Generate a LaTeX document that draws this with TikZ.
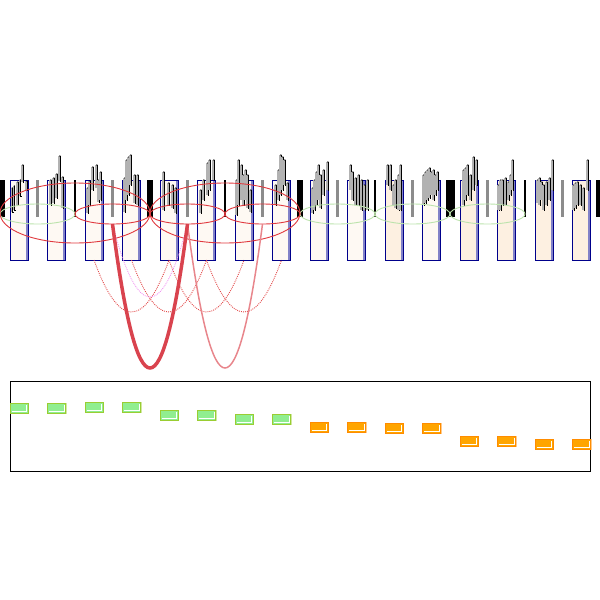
\documentclass[tikz,border=0pt]{standalone}
\definecolor{boxcream}{HTML}{FEF9F3}
\definecolor{boxorange}{HTML}{FDF0E1}
\definecolor{boxedge}{HTML}{00008B}
\definecolor{boxbar}{HTML}{8282C8}
\definecolor{loopred}{HTML}{E0393E}
\definecolor{loopgreen}{HTML}{BCE3AC}
\definecolor{arcdark}{HTML}{D9434E}
\definecolor{arclight}{HTML}{E8868C}
\definecolor{dotred}{HTML}{E24A4A}
\definecolor{dotpink}{HTML}{F08CF0}
\definecolor{gfill}{HTML}{90EE90}
\definecolor{gedge}{HTML}{9ACD32}
\definecolor{ofill}{HTML}{FFA500}
\definecolor{oedge}{HTML}{FF8C00}
\tikzset{
  binbox/.style={draw=boxedge, line width=0.8pt},
  bigloop/.style={draw=loopred, line width=0.9pt},
  redloop/.style={draw=loopred, line width=0.9pt},
  greenloop/.style={draw=loopgreen, line width=0.9pt},
  thickarc/.style={draw=arcdark, line width=3.5pt},
  lightarc/.style={draw=arclight, line width=1.5pt},
  dotarc/.style={draw=dotred, line width=0.9pt, dash pattern=on 0.9pt off 1.1pt},
  pinkarc/.style={draw=dotpink, line width=0.8pt, dash pattern=on 0.9pt off 1pt},
  panel/.style={draw=black, line width=1pt},
}
\newcommand\glstem[3]{%
  \draw[gray!60, line width=1.2pt] (#1,#2) -- (#1,#3);
  \draw[black, line width=0.55pt] (#1+0.9,#2) -- (#1+0.9,#3) -- (#1+2.4,#3);
  \fill[black] (#1+0.9,#2) circle (0.7pt);
}
\begin{document}
\begin{tikzpicture}[x=1pt,y=-1pt]
\useasboundingbox (0,0) rectangle (600,600);
% bins
\foreach \k/\c in {0/boxcream,1/boxcream,2/boxcream,3/boxcream,4/boxcream,5/boxcream,6/boxcream,7/boxcream,8/boxcream,9/boxcream,10/boxorange,11/boxcream,12/boxorange,13/boxorange,14/boxorange,15/boxorange}{
  \pgfmathsetmacro\xa{37.5*\k+10}
  \pgfmathsetmacro\xb{\xa+18}
  \fill[\c] (\xa,180) rectangle (\xb,260);
  \fill[boxbar] (\xb-2.2,180) rectangle (\xb,260);
  \draw[binbox] (\xa,180) rectangle (\xb,260);
}
% separator bars
\foreach \k in {1,3,...,15} \fill[gray!90] (37.5*\k-1.1,180) rectangle (37.5*\k+1.1,217);
\foreach \k in {2,6,10,14} \fill[black] (37.5*\k-0.9,180) rectangle (37.5*\k+0.9,217);
\fill[black] (0,180) rectangle (5,217);
\fill[black] (147,180) rectangle (153,217);
\fill[black] (297,180) rectangle (303,217);
\fill[black] (446,180) rectangle (455,217);
\fill[black] (596,180) rectangle (600,217);
% glyph stems
\foreach \x/\t/\b in {
 11.5/188/212,13.5/186/210,17/182/205,19.5/180/196,22/165/182,26/181/190,
 50/180/205,53/178/203,56/174/198,59/156/181,62/177/208,
 87/188/213,89/181/205,92/167/190,96/165/188,98/180/202,100/172/200,
 124/178/212,126/160/200,128/157/195,130/155/185,134/175/203,137/175/205,
 163/172/210,168/183/205,172/185/208,175/188/213,
 200/190/213,203/180/200,207/163/195,209/160/190,213/160/180,
 236/180/215,238/160/205,241/165/200,243/175/205,245/170/200,247/175/208,250/190/212,
 275/185/205,278/170/200,280/155/195,282/157/190,284/160/185,287/183/200,
 312/188/213,314/180/210,316/172/205,318/165/200,320/175/208,323/170/195,327/162/190,
 350/165/190,352/172/200,355/178/205,358/175/205,361/180/210,364/185/210,367/180/210,
 387/165/185,390/165/190,393/185/205,395/180/208,398/175/210,400/165/210,
 423/175/205,425/172/203,427/170/200,429/168/198,431/172/195,433/170/200,435/175/195,437/172/190,
 463/170/205,465/168/200,467/165/195,470/175/200,473/157/190,476/160/185,
 498/185/210,500/180/210,502/180/205,505/178/205,508/182/200,510/175/195,512/160/190,
 537/180/203,539/178/205,541/182/200,543/185/210,546/182/205,549/178/200,552/160/190,
 573/185/210,575/183/208,577/182/205,580/185/205,583/188/210,587/160/190}
 {\glstem{\x}{\t}{\b}}
% loops
\draw[greenloop] (37.5,214) ellipse [x radius=37.5pt, y radius=10pt];
\draw[greenloop] (337.5,214) ellipse [x radius=37.5pt, y radius=10pt];
\draw[greenloop] (412.5,214) ellipse [x radius=37.5pt, y radius=10pt];
\draw[greenloop] (487.5,214) ellipse [x radius=37.5pt, y radius=10pt];
\draw[redloop] (112.5,214) ellipse [x radius=37.5pt, y radius=10pt];
\draw[redloop] (187.5,214) ellipse [x radius=37.5pt, y radius=10pt];
\draw[redloop] (262.5,214) ellipse [x radius=37.5pt, y radius=10pt];
\draw[bigloop] (75,213) ellipse [x radius=75pt, y radius=30pt];
\draw[bigloop] (225,213) ellipse [x radius=75pt, y radius=30pt];
% arc endpoints
\coordinate (L1) at (112.5,224);
\coordinate (L2) at (187.5,224);
\coordinate (L3) at (262.5,224);
\coordinate (B2) at (94,260);
\coordinate (B3) at (131.5,260);
\coordinate (B4) at (169,260);
\coordinate (B5) at (206.5,260);
\coordinate (B6) at (244,260);
\coordinate (B7) at (281.5,260);
% dotted arcs
\draw[dotarc] (B2) .. controls (119,329.3) and (144,329.3) .. (B4);
\draw[dotarc] (B3) .. controls (156.5,329.3) and (181.5,329.3) .. (B5);
\draw[dotarc] (B4) .. controls (194,329.3) and (219,329.3) .. (B6);
\draw[dotarc] (B5) .. controls (231.5,329.3) and (256.5,329.3) .. (B7);
\draw[pinkarc] (L1) .. controls (137.5,321.3) and (162.5,321.3) .. (L2);
% solid arcs
\draw[lightarc] (L2) .. controls (212.5,416) and (237.5,416) .. (L3);
\draw[thickarc] (L1) .. controls (137.5,416) and (162.5,416) .. (L2);
% bottom panel
\draw[panel] (10,381) rectangle (590,471);
\foreach \x/\y in {10/403,47.5/403,85/402,122.5/402,160/410,197.5/410,235/414,272.5/414}{
  \draw[gedge, opacity=0.45, line width=0.9pt] (\x+0.8,\y+0.8) rectangle (\x+18.8,\y+10.8);
  \fill[gfill] (\x,\y) rectangle (\x+18,\y+10);
  \draw[white, line width=0.7pt] (\x+1.5,\y+8.6) -- (\x+16.6,\y+8.6) -- (\x+16.6,\y+1.5);
  \draw[gedge, line width=0.9pt] (\x,\y) rectangle (\x+18,\y+10);
}
\foreach \x/\y in {310/422,347.5/422,385/423,422.5/423,460/436,497.5/436,535/439,572.5/439}{
  \draw[oedge, opacity=0.45, line width=0.9pt] (\x+0.8,\y+0.8) rectangle (\x+18.8,\y+10.8);
  \fill[ofill] (\x,\y) rectangle (\x+18,\y+10);
  \draw[white, line width=0.7pt] (\x+1.5,\y+8.6) -- (\x+16.6,\y+8.6) -- (\x+16.6,\y+1.5);
  \draw[oedge, line width=0.9pt] (\x,\y) rectangle (\x+18,\y+10);
}
\end{tikzpicture}
\end{document}
